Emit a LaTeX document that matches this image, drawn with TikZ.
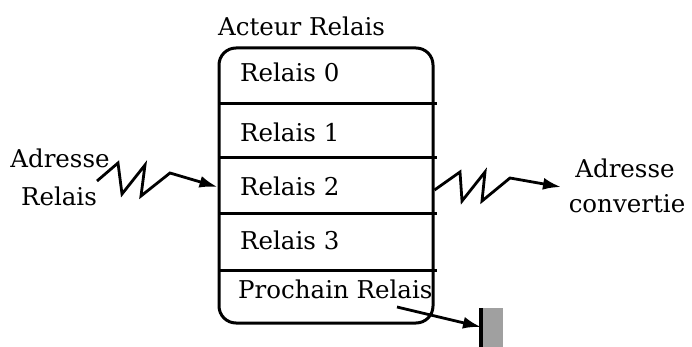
\documentclass[tikz,border=0pt]{standalone}
\usepackage{fontspec}
\setmainfont{DejaVu Serif}
\usetikzlibrary{arrows.meta}
\begin{document}
\begin{tikzpicture}[x=1pt,y=-1pt,
  lbl/.style={font=\fontsize{24.5}{29}\selectfont, inner sep=0pt, anchor=base west},
  clbl/.style={font=\fontsize{24.5}{29}\selectfont, inner sep=0pt, anchor=base},
  boxline/.style={line width=3pt},
  conn/.style={line width=2.8pt, line join=miter, -{Latex[length=18pt,width=12pt]}}
]
\useasboundingbox (0,0) rectangle (692,347);
% main box
\node[draw, boxline, rounded corners=17pt, minimum width=214pt, minimum height=275pt, inner sep=0pt] (box) at (326,185.5) {};
\coordinate (s1l) at (219,104); \coordinate (s1r) at (437,104);
\coordinate (s2l) at (219,158); \coordinate (s2r) at (437,158);
\coordinate (s3l) at (219,213); \coordinate (s3r) at (437,213);
\coordinate (s4l) at (219,270); \coordinate (s4r) at (437,270);
\draw[boxline] (s1l) -- (s1r);
\draw[boxline] (s2l) -- (s2r);
\draw[boxline] (s3l) -- (s3r);
\draw[boxline] (s4l) -- (s4r);
% labels
\node[lbl] (title) at (218,36) {Acteur Relais};
\node[lbl] (r0) at (240,82) {Relais 0};
\node[lbl] (r1) at (240,142) {Relais 1};
\node[lbl] (r2) at (240,196) {Relais 2};
\node[lbl] (r3) at (240,249) {Relais 3};
\node[lbl] (pr) at (238,298) {Prochain Relais};
\node[clbl] (inA) at (60,168) {Adresse};
\node[clbl] (inB) at (59,205) {Relais};
\node[clbl] (outA) at (625,178) {Adresse};
\node[clbl] (outB) at (627,212) {convertie};
% left zigzag
\coordinate (l0) at (97,181);
\coordinate (l1) at (118,163);
\coordinate (l2) at (122,194);
\coordinate (l3) at (145,165);
\coordinate (l4) at (141,196);
\coordinate (l5) at (170,173);
\draw[conn] (l0) -- (l1) -- (l2) -- (l3) -- (l4) -- (l5) -- (box.west |- 0,187);
% right zigzag
\coordinate (m0) at (438,190);
\coordinate (m1) at (460,172);
\coordinate (m2) at (462,201);
\coordinate (m3) at (485,172);
\coordinate (m4) at (482,201);
\coordinate (m5) at (510,178);
\coordinate (m6) at (561,187);
\draw[conn] (box.east |- m0) -- (m1) -- (m2) -- (m3) -- (m4) -- (m5) -- (m6);
% next relay
\node[fill={rgb,255:red,160;green,160;blue,160}, minimum width=22pt, minimum height=40pt, inner sep=0pt, anchor=north west] (sink) at (481,308) {};
\draw[line width=3.2pt] (sink.north west) -- (sink.south west);
\coordinate (p0) at (397,307);
\draw[conn] (p0) -- (sink.west |- 0,327);
\end{tikzpicture}
\end{document}
